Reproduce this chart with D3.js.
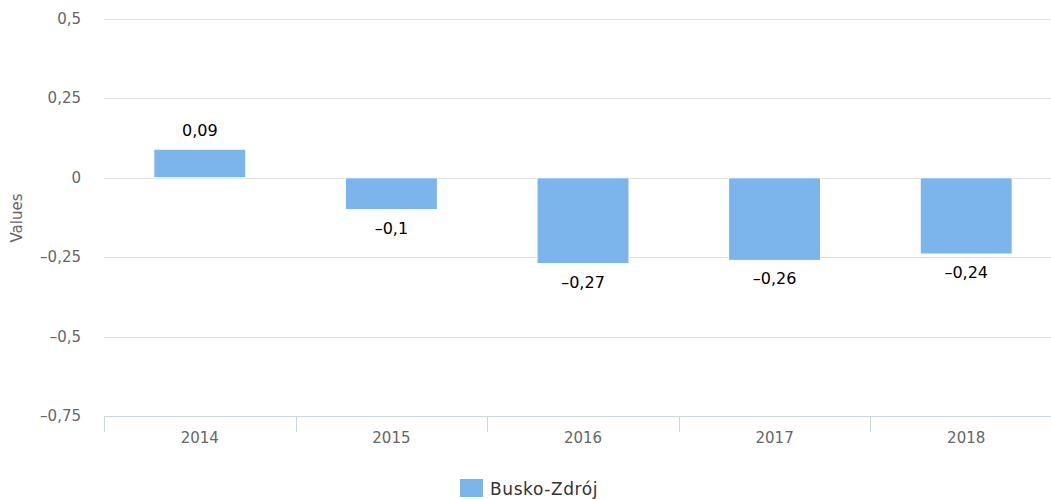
<!DOCTYPE html>
<html>
<head>
<meta charset="utf-8">
<script src="https://cdn.jsdelivr.net/npm/d3@7"></script>
<style>
body { margin: 0; background: #fff; }
text { font-family: "DejaVu Sans", sans-serif; }
</style>
</head>
<body>
<div id="graph"></div>
<script>
var years = ["2014", "2015", "2016", "2017", "2018"];
var values = [0.09, -0.1, -0.27, -0.26, -0.24];
var yTicks = [0.5, 0.25, 0, -0.25, -0.5, -0.75];
var seriesName = "Busko-Zdrój";

function fmt(v){
  return String(v).replace(".", ",").replace("-", "\u2013");
}

function drawStuff(){
  var vis = d3.select("#graph")
              .append("svg")
              .attr("width", 1051).attr("height", 499);

  var left = 104, right = 1062, top = 19, bottom = 416;

  var x = d3.scaleBand().domain(years).range([left, right]).paddingInner(0.52).paddingOuter(0.26);
  var bandX = d3.scaleBand().domain(years).range([left, right]);
  var y = d3.scaleLinear().domain([-0.75, 0.5]).range([bottom, top]);

  // grid lines
  vis.selectAll("line.grid")
     .data(yTicks.filter(function(d){ return d != -0.75; }))
     .enter()
     .append("line")
     .attr("x1", left).attr("x2", 1051)
     .attr("y1", function(d){ return Math.round(y(d)) + 0.5; })
     .attr("y2", function(d){ return Math.round(y(d)) + 0.5; })
     .attr("stroke", "#e0e0e0").attr("stroke-width", 1);

  // y labels
  vis.selectAll("text.ylab")
     .data(yTicks)
     .enter()
     .append("text")
     .attr("x", 81)
     .attr("y", function(d){ return y(d) + 5; })
     .attr("text-anchor", "end")
     .attr("fill", "#666").attr("font-size", "15px")
     .text(fmt);

  vis.append("text")
     .attr("transform", "translate(22,218) rotate(-90)")
     .attr("text-anchor", "middle")
     .attr("fill", "#666").attr("font-size", "15px")
     .text("Values");

  // bars
  vis.selectAll("rect.bar")
     .data(values)
     .enter()
     .append("rect")
     .attr("x", function(d, i){ return x(years[i]); })
     .attr("width", x.bandwidth())
     .attr("y", function(d){ return y(Math.max(0, d)); })
     .attr("height", function(d){ return Math.abs(y(d) - y(0)); })
     .attr("fill", "#7cb5ec")
     .attr("stroke", "#fff").attr("stroke-width", 1);

  // data labels
  vis.selectAll("text.dlab")
     .data(values)
     .enter()
     .append("text")
     .attr("x", function(d, i){ return x(years[i]) + x.bandwidth() / 2; })
     .attr("y", function(d){ return d >= 0 ? y(d) - 13 : y(d) + 24; })
     .attr("text-anchor", "middle")
     .attr("fill", "#000").attr("font-size", "16px")
     .text(fmt);

  // x axis
  vis.append("line")
     .attr("x1", left).attr("x2", 1051)
     .attr("y1", bottom + 0.5).attr("y2", bottom + 0.5)
     .attr("stroke", "#ccd6eb");

  vis.selectAll("line.xtick")
     .data(years)
     .enter()
     .append("line")
     .attr("x1", function(d){ return Math.round(bandX(d)) + 0.5; })
     .attr("x2", function(d){ return Math.round(bandX(d)) + 0.5; })
     .attr("y1", bottom).attr("y2", bottom + 16)
     .attr("stroke", "#ccd6eb");

  vis.selectAll("text.xlab")
     .data(years)
     .enter()
     .append("text")
     .attr("x", function(d){ return bandX(d) + bandX.bandwidth() / 2; })
     .attr("y", 443)
     .attr("text-anchor", "middle")
     .attr("fill", "#666").attr("font-size", "15px")
     .text(function(d){ return d; });

  // legend
  vis.append("rect")
     .attr("x", 460).attr("y", 479)
     .attr("width", 23).attr("height", 18)
     .attr("fill", "#7cb5ec");

  vis.append("text")
     .attr("x", 490).attr("y", 495)
     .attr("fill", "#333").attr("font-size", "17px")
     .attr("letter-spacing", "0.6px")
     .text(seriesName);
}
drawStuff();
</script>
</body>
</html>
